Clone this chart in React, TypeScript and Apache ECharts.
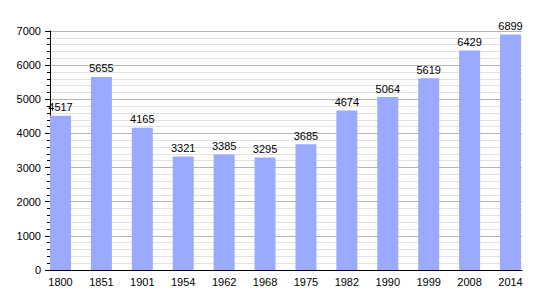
import React, { useEffect, useRef } from "react";
import * as echarts from "echarts";

const years = ["1800", "1851", "1901", "1954", "1962", "1968", "1975", "1982", "1990", "1999", "2008", "2014"];
const population = [4517, 5655, 4165, 3321, 3385, 3295, 3685, 4674, 5064, 5619, 6429, 6899];

export default function App() {
  const ref = useRef<HTMLDivElement>(null);
  useEffect(() => {
    const chart = echarts.init(ref.current!, null, { renderer: "svg" });
    const font = "Liberation Sans, Arial, sans-serif";
    chart.setOption({
      animation: false,
      backgroundColor: "#ffffff",
      grid: [
        { left: 50, right: 28, top: 31, bottom: 30 },
        { left: 60.5, right: 39.5, top: 31, bottom: 30 },
      ],
      xAxis: [
        {
          gridIndex: 0,
          type: "value",
          min: 0,
          max: 1,
          axisLine: { show: true, lineStyle: { color: "#000", width: 1 } },
          axisTick: { show: false },
          axisLabel: { show: false },
          splitLine: { show: false },
        },
        {
          gridIndex: 1,
          type: "category",
          data: years,
          boundaryGap: false,
          axisLine: { show: false },
          axisTick: { show: false },
          axisLabel: { color: "#000", fontSize: 11, fontFamily: font, margin: 6 },
          splitLine: { show: false },
        },
      ],
      yAxis: [
        {
          gridIndex: 0,
          type: "value",
          min: 0,
          max: 7000,
          interval: 1000,
          axisLine: { show: true, lineStyle: { color: "#000", width: 1 } },
          axisTick: { show: true, inside: false, length: 5, lineStyle: { color: "#000" } },
          minorTick: { show: true, splitNumber: 5, length: 3, lineStyle: { color: "#000" } },
          axisLabel: {
            color: "#000",
            fontSize: 11,
            fontFamily: font,
            margin: 9,
            formatter: (v: number) => String(v),
          },
          splitLine: { show: true, lineStyle: { color: "#b4b4b4", width: 1 } },
          minorSplitLine: { show: true, lineStyle: { color: "#e2e2e2", width: 1 } },
        },
        {
          gridIndex: 1,
          type: "value",
          min: 0,
          max: 7000,
          show: false,
          splitLine: { show: false },
        },
      ],
      series: [
        {
          type: "bar",
          xAxisIndex: 1,
          yAxisIndex: 1,
          data: population,
          barWidth: 21,
          itemStyle: { color: "#99aaff" },
          label: {
            show: true,
            position: "top",
            distance: 3,
            color: "#000",
            fontSize: 11,
            fontFamily: font,
          },
        },
      ],
    });
    return () => chart.dispose();
  }, []);
  return <div ref={ref} style={{ width: 550, height: 300, position: "absolute", left: 0, top: 0 }} />;
}
